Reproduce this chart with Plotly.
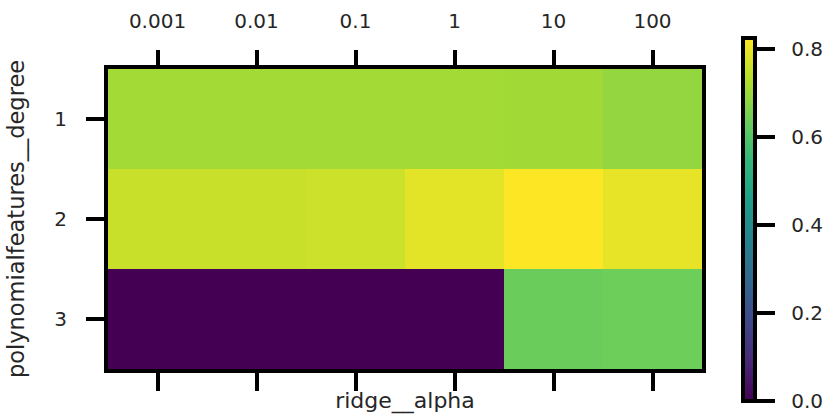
import plotly.graph_objects as go

alpha_labels = ["0.001", "0.01", "0.1", "1", "10", "100"]
degree_labels = ["1", "2", "3"]
scores_degree1 = [0.71, 0.71, 0.71, 0.71, 0.708, 0.69]
scores_degree2 = [0.758, 0.758, 0.763, 0.792, 0.825, 0.797]
scores_degree3 = [0.0, 0.0, 0.0, 0.0, 0.635, 0.64]
cbar_ticks = [0.0, 0.2, 0.4, 0.6, 0.8]
cbar_ticktext = ["\u00a0\u00a0" + f"{v:.1f}" for v in cbar_ticks]

z = [scores_degree1, scores_degree2, scores_degree3]

TXT = "#262626"
FONT = "DejaVu Sans"

fig = go.Figure()
fig.add_trace(go.Heatmap(
    z=z, x=alpha_labels, y=degree_labels,
    colorscale="Viridis", zmin=0.0, zmax=0.825,
    xgap=0, ygap=0,
    colorbar=dict(
        xref="container", x=0.889, xanchor="left", xpad=0,
        y=0.498, yanchor="middle", ypad=0,
        len=363, lenmode="pixels",
        thickness=12, thicknessmode="pixels",
        outlinewidth=4, outlinecolor="black",
        tickmode="array", tickvals=cbar_ticks, ticktext=cbar_ticktext,
        ticks="outside", ticklen=18, tickwidth=4, tickcolor="black",
        tickfont=dict(family=FONT, size=20, color=TXT),
    ),
))

fig.update_layout(
    width=836, height=414,
    margin=dict(l=108, r=134, t=69, b=45, pad=0),
    paper_bgcolor="white", plot_bgcolor="white",
    font=dict(family=FONT, size=20, color=TXT),
    xaxis=dict(
        type="category", side="bottom", automargin=False,
        showticklabels=False,
        ticks="outside", ticklen=18, tickwidth=4, tickcolor="black",
        showline=True, linewidth=4, linecolor="black", mirror=True,
        showgrid=False, zeroline=False,
        title=dict(text="ridge__alpha", font=dict(family=FONT, size=22, color=TXT), standoff=10),
    ),
    xaxis2=dict(
        overlaying="x", side="top", range=[-0.5, 5.5], automargin=False,
        tickmode="array", tickvals=list(range(len(alpha_labels))), ticktext=alpha_labels,
        ticks="outside", ticklen=18, tickwidth=4, tickcolor="black",
        tickfont=dict(family=FONT, size=20, color=TXT),
        ticklabelstandoff=14,
        showline=False, showgrid=False, zeroline=False,
    ),
    yaxis=dict(
        type="category", autorange="reversed", automargin=False,
        ticks="outside", ticklen=18, tickwidth=4, tickcolor="black",
        tickfont=dict(family=FONT, size=20, color=TXT),
        ticklabelstandoff=15,
        showline=True, linewidth=4, linecolor="black", mirror=True,
        showgrid=False, zeroline=False,
        title=dict(text="polynomialfeatures__degree", font=dict(family=FONT, size=22.5, color=TXT), standoff=24),
    ),
)

# invisible trace so the top axis is rendered
fig.add_trace(go.Scatter(x=[0, 5], y=[None, None], xaxis="x2", yaxis="y", showlegend=False, hoverinfo="skip"))

fig.write_html("out.html")
